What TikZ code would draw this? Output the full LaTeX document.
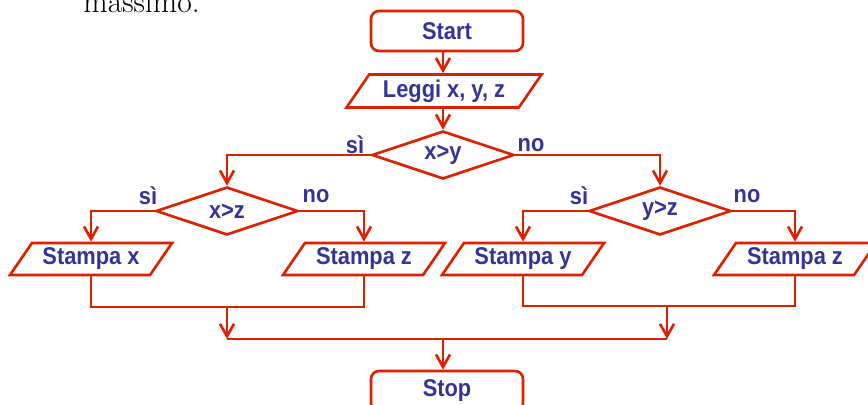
\documentclass[tikz,border=0pt]{standalone}
\usepackage{fontspec}
\setsansfont{Liberation Sans}[FakeStretch=0.9]
\usetikzlibrary{shapes.geometric,arrows.meta}
\definecolor{rosso}{RGB}{222,32,0}
\definecolor{blu}{RGB}{51,51,153}
\newcommand{\pix}{0.02cm}

\begin{document}
\begin{tikzpicture}[x=\pix, y=-\pix,
  every node/.style={font=\sffamily\bfseries\fontsize{13.8}{15}\selectfont, text=blu},
  linea/.style={draw=rosso, line width=1.5pt},
  freccia/.style={linea, -{Straight Barb[length=0.25cm, width=0.28cm]}},
  termine/.style={linea, rounded corners=0.16cm, minimum width=152*\pix, minimum height=40*\pix},
  io/.style={linea, trapezium, trapezium left angle=45, trapezium right angle=135,
    trapezium stretches body, minimum width=162*\pix, minimum height=32*\pix, inner sep=0pt},
  scelta/.style={linea, diamond, aspect=3, minimum width=142*\pix, minimum height=48*\pix, inner sep=0pt},
  etich/.style={inner sep=0pt}
]
\useasboundingbox (0,0) rectangle (868,405);
\clip (0,0) rectangle (868,405);

% riga di testo tagliata in alto
\node[anchor=base west, font=\rmfamily\fontsize{18}{20}\selectfont, text=black, inner sep=0pt] (titolo) at (83,12.5) {massimo.};

\node[termine] (start) at (447,31) {Start};
\node[io, minimum width=195*\pix, minimum height=33*\pix] (leggi) at (444,91) {Leggi x, y, z};
\node[scelta] (xy) at (443,155) {x>y};

\node[scelta] (xz) at (227,211) {x>z};
\node[scelta] (yz) at (660,211) {y>z};

\node[io] (sx) at (91,259) {Stampa x};
\node[io] (szl) at (364,259) {Stampa z};
\node[io] (sy) at (523,259) {Stampa y};
\node[io] (szr) at (795,259) {Stampa z};

\node[termine] (stop) at (447,391) {Stop};

\foreach \n/\x/\y/\t in {si1/355/145/sì, no1/531/145/no, si2/148/196/sì,
                         no2/316/196/no, si3/579/196/sì, no3/747/196/no}
  \node[etich] (\n) at (\x,\y) {\t};

\draw[freccia] (start.south -| xy.north) -- (leggi.north -| xy.north);
\draw[freccia] (leggi.south -| xy.north) -- (xy.north);
\draw[freccia] (xy.west) -| (xz.north);
\draw[freccia] (xy.east) -| (yz.north);
\draw[freccia] (xz.west) -| (sx.north);
\draw[freccia] (xz.east) -| (szl.north);
\draw[freccia] (yz.west) -| (sy.north);
\draw[freccia] (yz.east) -| (szr.north);

% ricongiungimento
\coordinate (gsx) at (227,307);
\coordinate (gdx) at (667,306);
\coordinate (fine) at (443,339);
\draw[linea] (sx.south) |- (gsx) -| (szl.south);
\draw[linea] (sy.south) |- (gdx) -| (szr.south);
\draw[freccia] (gsx) -- (gsx |- fine);
\draw[freccia] (gdx) -- (gdx |- fine);
\draw[linea] (gsx |- fine) -- (gdx |- fine);
\draw[freccia] (fine) -- (stop.north -| fine);

\end{tikzpicture}
\end{document}
